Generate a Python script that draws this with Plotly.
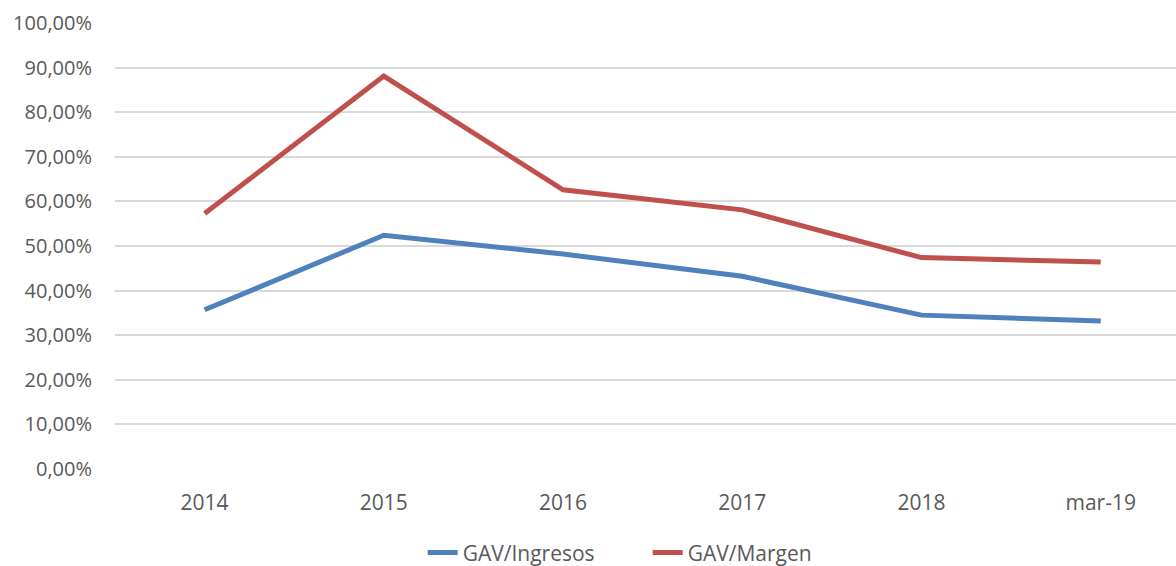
import plotly.graph_objects as go

categories = ["2014", "2015", "2016", "2017", "2018", "mar-19"]
gav_ingresos = [35.7, 52.4, 48.2, 43.2, 34.5, 33.2]   # percent
gav_margen = [57.3, 88.1, 62.6, 58.1, 47.4, 46.4]     # percent
y_ticks = [0, 10, 20, 30, 40, 50, 60, 70, 80, 90, 100]

BLUE = "#4F81BD"
RED = "#C0504D"
TEXT = "#595959"
FONT = "Open Sans"
FS = 21

fig = go.Figure()
fig.add_trace(go.Scatter(x=categories, y=[v / 100 for v in gav_ingresos], mode="lines",
                         name="GAV/Ingresos", line=dict(color=BLUE, width=5)))
fig.add_trace(go.Scatter(x=categories, y=[v / 100 for v in gav_margen], mode="lines",
                         name="GAV/Margen", line=dict(color=RED, width=5)))

fig.update_layout(
    width=1176, height=566,
    margin=dict(l=115, r=0, t=23, b=97, autoexpand=False),
    paper_bgcolor="white", plot_bgcolor="white",
    separators=",.",
    font=dict(family=FONT, size=FS, color=TEXT),
    showlegend=True,
    legend=dict(orientation="h", x=0.29, xanchor="left", y=-0.188, yanchor="middle",
                font=dict(family=FONT, size=FS, color=TEXT), itemwidth=30,
                entrywidth=180, bgcolor="rgba(0,0,0,0)"),
)
fig.update_xaxes(type="category", range=[-0.5, 5.42], showgrid=False, showline=False,
                 zeroline=False, ticks="", ticklabelstandoff=19,
                 tickfont=dict(family=FONT, size=FS, color=TEXT))
fig.update_yaxes(range=[0, 1], tickvals=[t / 100 for t in y_ticks], tickformat=".2%",
                 showgrid=True, gridcolor="#D9D9D9", gridwidth=1.5, zeroline=False,
                 showline=False, ticks="", ticklabelstandoff=22,
                 tickfont=dict(family=FONT, size=20, color=TEXT))

fig.write_html(
    "out.html",
    config={"displayModeBar": False},
    post_script="document.body.style.margin='0';document.body.style.overflow='hidden';",
)
